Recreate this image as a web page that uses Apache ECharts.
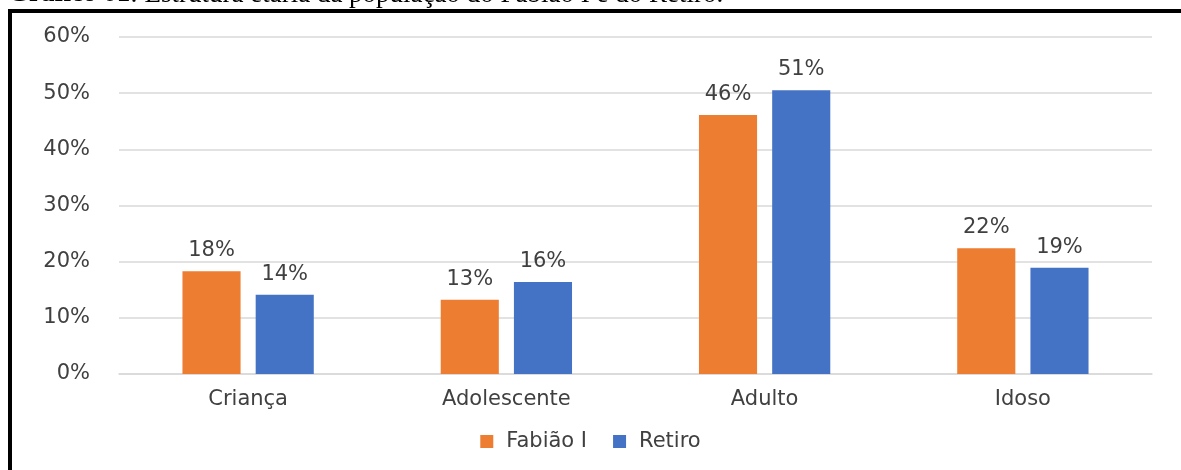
<!DOCTYPE html>
<html><head><meta charset="utf-8">
<script src="https://cdn.jsdelivr.net/npm/echarts@6/dist/echarts.min.js"></script>
<style>html,body{margin:0;padding:0;background:#fff}#c{width:1181px;height:470px}</style>
</head><body><div id="c"></div>
<script>
const categories = ['Criança', 'Adolescente', 'Adulto', 'Idoso'];
const fabiao = [18.3, 13.2, 46.1, 22.4];
const retiro = [14.1, 16.4, 50.5, 18.9];
const seriesNames = ['Fabião I', 'Retiro'];
const yTicks = [0, 10, 20, 30, 40, 50, 60];

const chart = echarts.init(document.getElementById('c'));
const txt = '#404040';
const font = 'DejaVu Sans';
const fs = 21;
const lbl = {show: true, position: 'top', distance: 10, color: txt, fontFamily: font, fontSize: fs,
  formatter: p => Math.round(p.value) + '%'};
chart.setOption({
  animation: false,
  backgroundColor: '#fff',
  graphic: [
    {type: 'rect', shape: {x: 10, y: 11, width: 1220, height: 520}, style: {fill: 'none', stroke: '#000', lineWidth: 4}, z: 100},
    {type: 'text', left: 8, top: -19, style: {text: '{b|Gráfico 01}: Estrutura etária da população do Fabião I e do Retiro.',
      rich: {b: {fontWeight: 'bold', fontFamily: 'Liberation Serif', fontSize: 27, fill: '#000'}},
      fontFamily: 'Liberation Serif', fontSize: 27, fill: '#000'}, z: 99}
  ],
  legend: {bottom: 13, left: 'center', itemWidth: 13, itemHeight: 13, itemGap: 26, icon: 'rect',
    textStyle: {color: txt, fontFamily: font, fontSize: fs, padding: [0, 0, 0, 8]}, data: seriesNames},
  grid: {left: 119, right: 29, top: 37, bottom: 96, containLabel: false},
  xAxis: {type: 'category', data: categories,
    axisLine: {lineStyle: {color: '#d9d9d9', width: 1.5}}, axisTick: {show: false},
    axisLabel: {color: txt, fontFamily: font, fontSize: fs, margin: 15}},
  yAxis: {type: 'value', min: yTicks[0], max: yTicks[yTicks.length - 1], interval: 10,
    axisLabel: {color: txt, fontFamily: font, fontSize: fs, margin: 29, formatter: v => v + '%'},
    splitLine: {lineStyle: {color: '#d9d9d9', width: 1.5}}, axisLine: {show: false}, axisTick: {show: false}},
  series: [
    {name: seriesNames[0], type: 'bar', data: fabiao, itemStyle: {color: '#ED7D31'}, barWidth: '22.5%', barGap: '26%', label: lbl},
    {name: seriesNames[1], type: 'bar', data: retiro, itemStyle: {color: '#4472C4'}, barWidth: '22.5%', label: lbl}
  ]
});
</script></body></html>
